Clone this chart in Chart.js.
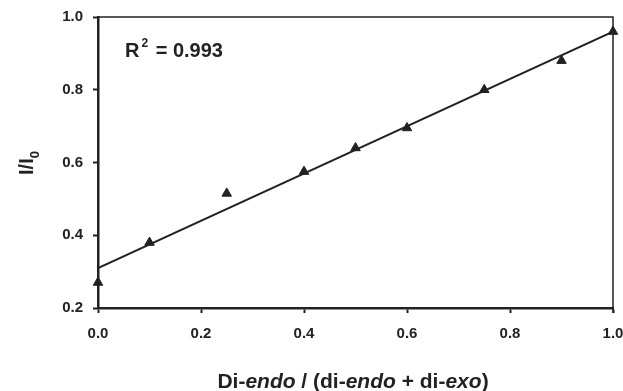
<!DOCTYPE html>
<html>
<head>
<meta charset="utf-8">
<script src="https://cdn.jsdelivr.net/npm/chart.js"></script>
<style>
  html, body { margin: 0; padding: 0; background: #fff; }
  #wrap { width: 623px; height: 391px; }
</style>
</head>
<body>
<div id="wrap"><canvas id="chart" width="623" height="391"></canvas></div>
<script>
// 資料：比例 (x) 與 I/I0 (y)
const ratioValues = [0.0, 0.1, 0.25, 0.4, 0.5, 0.6, 0.75, 0.9, 1.0];
const intensityValues = [0.27, 0.38, 0.515, 0.575, 0.64, 0.695, 0.80, 0.88, 0.96];
// 回歸線兩端
const fitX = [0.0, 1.0];
const fitY = [0.31, 0.96];
const xTicks = [0.0, 0.2, 0.4, 0.6, 0.8, 1.0];
const yTicks = [0.2, 0.4, 0.6, 0.8, 1.0];
const r2Text = "0.993";

const ink = "#222222";
const font = "'Liberation Sans', Arial, sans-serif";

// 畫框線上方與右側、座標軸標題與 R2
const decorPlugin = {
    id: "decor",
    afterDraw(chart) {
        const ctx = chart.ctx;
        const area = chart.chartArea;
        ctx.save();
        ctx.strokeStyle = ink;
        ctx.lineWidth = 1.5;
        ctx.beginPath();
        ctx.moveTo(area.left, area.top);
        ctx.lineTo(area.right, area.top);
        ctx.lineTo(area.right, area.bottom + 5);
        ctx.stroke();

        ctx.fillStyle = ink;
        ctx.textBaseline = "alphabetic";

        // R2
        ctx.font = "bold 20px " + font;
        let x = 125, y = 57;
        ctx.fillText("R", x, y);
        x += ctx.measureText("R").width + 2;
        ctx.font = "bold 12px " + font;
        ctx.fillText("2", x, y - 10);
        x += ctx.measureText("2").width + 2;
        ctx.font = "bold 20px " + font;
        ctx.fillText(" = " + r2Text, x, y);

        // X 軸標題（含斜體）
        const parts = [
            ["Di-", false], ["endo", true], [" / (di-", false], ["endo", true],
            [" + di-", false], ["exo", true], [")", false]
        ];
        let total = 0;
        parts.forEach(([t, it]) => {
            ctx.font = (it ? "italic " : "") + "bold 21px " + font;
            total += ctx.measureText(t).width;
        });
        x = 353 - total / 2;
        y = 388;
        parts.forEach(([t, it]) => {
            ctx.font = (it ? "italic " : "") + "bold 21px " + font;
            ctx.fillText(t, x, y);
            x += ctx.measureText(t).width;
        });

        // Y 軸標題 I/I0
        ctx.translate(33, 163);
        ctx.rotate(-Math.PI / 2);
        ctx.font = "bold 20px " + font;
        const w1 = ctx.measureText("I/I").width;
        ctx.font = "bold 13px " + font;
        const w2 = ctx.measureText("0").width;
        let sx = -(w1 + w2) / 2;
        ctx.font = "bold 20px " + font;
        ctx.fillText("I/I", sx, 0);
        ctx.font = "bold 13px " + font;
        ctx.fillText("0", sx + w1, 6);
        ctx.restore();
    }
};

new Chart(document.getElementById("chart"), {
    type: "scatter",
    data: {
        datasets: [
            {
                type: "line",
                data: fitX.map((v, i) => ({ x: v, y: fitY[i] })),
                borderColor: ink,
                borderWidth: 2,
                pointRadius: 0,
                fill: false
            },
            {
                data: ratioValues.map((v, i) => ({ x: v, y: intensityValues[i] })),
                pointStyle: "triangle",
                pointRadius: 5.5,
                backgroundColor: ink,
                borderColor: ink,
                borderWidth: 1,
                clip: false
            }
        ]
    },
    options: {
        responsive: false,
        animation: false,
        events: [],
        layout: { padding: { top: 17, right: 10, left: 0, bottom: 0 } },
        plugins: { legend: { display: false }, tooltip: { enabled: false } },
        scales: {
            x: {
                type: "linear",
                min: 0, max: 1,
                afterBuildTicks: s => { s.ticks = xTicks.map(v => ({ value: v })); },
                afterFit: s => { s.height = 83; s.paddingLeft = 0; s.paddingRight = 0; },
                grid: { drawOnChartArea: false, drawTicks: true, tickLength: 5, color: ink, tickWidth: 2 },
                border: { display: true, color: ink, width: 2.5 },
                ticks: {
                    color: ink,
                    padding: 12,
                    font: { family: font, weight: "bold", size: 15 },
                    callback: v => v.toFixed(1)
                }
            },
            y: {
                type: "linear",
                min: 0.2, max: 1.0,
                afterBuildTicks: s => { s.ticks = yTicks.map(v => ({ value: v })); },
                afterFit: s => { s.width = 98; s.paddingTop = 0; s.paddingBottom = 0; },
                grid: { drawOnChartArea: false, drawTicks: true, tickLength: 5, color: ink, tickWidth: 2 },
                border: { display: true, color: ink, width: 2.5 },
                ticks: {
                    color: ink,
                    padding: 10,
                    font: { family: font, weight: "bold", size: 15 },
                    callback: v => v.toFixed(1)
                }
            }
        }
    },
    plugins: [decorPlugin]
});
</script>
</body>
</html>
